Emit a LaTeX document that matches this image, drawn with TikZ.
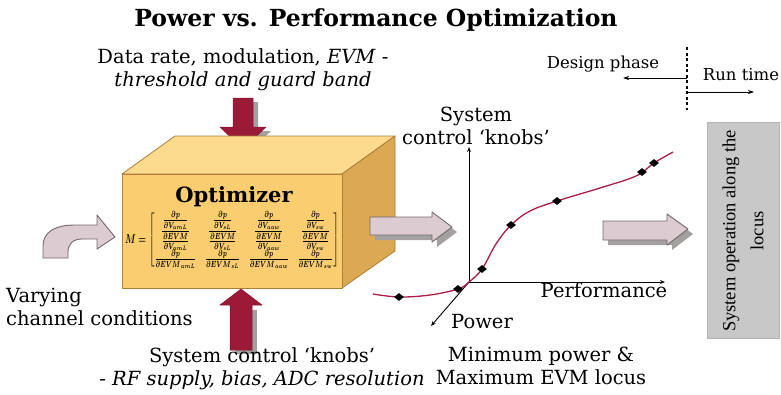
\documentclass[tikz,border=0pt]{standalone}
\usepackage{fontspec}
\usepackage{amsmath}
\setmainfont{DejaVu Serif}
\newfontfamily\timesfont{Liberation Serif}
\usetikzlibrary{arrows.meta,shapes.geometric}

\definecolor{wine}{RGB}{155,26,56}
\definecolor{shade}{RGB}{165,160,160}
\definecolor{pinkfill}{RGB}{221,203,210}
\definecolor{pinkedge}{RGB}{112,104,108}
\definecolor{cubefront}{RGB}{250,206,112}
\definecolor{cubetop}{RGB}{252,218,142}
\definecolor{cubeside}{RGB}{219,168,84}
\definecolor{cubeedge}{RGB}{170,128,60}
\definecolor{locus}{RGB}{168,30,68}
\definecolor{boxgray}{RGB}{200,200,200}

\tikzset{
  lbl/.style={inner sep=0pt, align=center, font=\fontsize{19.5}{22.5}\selectfont},
  redarrow/.style={fill=wine, draw=wine!85!black, line width=0.5pt},
  dropshade/.style={fill=shade, draw=none},
  pinkarrow/.style={fill=pinkfill, draw=pinkedge, line width=0.9pt, line join=round},
  cubeface/.style={draw=cubeedge, line width=0.8pt, line join=round},
  marker/.style={diamond, fill=black, inner sep=0pt, minimum width=10pt, minimum height=8pt},
  axis/.style={draw=black, line width=0.9pt, -{Stealth[length=5pt,width=4pt]}},
  phasearrow/.style={draw=black, line width=0.7pt, -{Stealth[length=6pt,width=4pt]}},
}

\begin{document}
\begin{tikzpicture}[x=1pt, y=-1pt]
\useasboundingbox (0,0) rectangle (781,394);

% title
\node[inner sep=0pt, font=\fontsize{23.5}{28}\selectfont\bfseries] (title) at (376,20)
  {Power vs. Performance Optimization};

% inputs from above
\node[lbl] (spec) at (243,70)
  {Data rate, modulation, \textit{EVM} -\\\textit{threshold and guard band}};

% arrow from the specification into the optimizer
\fill[dropshade] (238,102) -- (258,102) -- (258,131) -- (271,131) -- (248,153) -- (225,131) -- (238,131) -- cycle;
\path[redarrow] (233,98) -- (253,98) -- (253,127) -- (266,127) -- (243,149) -- (220,127) -- (233,127) -- cycle;

% optimizer block
\path[cubeface, fill=cubetop]  (122,174) -- (175,136) -- (395,136) -- (342,174) -- cycle;
\path[cubeface, fill=cubeside] (342,174) -- (395,136) -- (395,251) -- (342,288) -- cycle;
\path[cubeface, fill=cubefront] (122,174) rectangle (342,288);
\node[inner sep=0pt, font=\fontsize{21}{24}\selectfont\bfseries] (opt) at (234,197) {Optimizer};
\node[inner sep=0pt] (mat) at (232,240)
  {\resizebox*{214pt}{57pt}{\boldmath$M=\begin{bmatrix}
   \dfrac{\frac{\partial p}{\partial V_{amL}}}{\frac{\partial EVM}{\partial V_{amL}}} &
   \dfrac{\frac{\partial p}{\partial V_{sL}}}{\frac{\partial EVM}{\partial V_{sL}}} &
   \dfrac{\frac{\partial p}{\partial V_{aaw}}}{\frac{\partial EVM}{\partial V_{aaw}}} &
   \dfrac{\frac{\partial p}{\partial V_{sw}}}{\frac{\partial EVM}{\partial V_{sw}}} \\[9pt]
   \frac{\partial p}{\partial EVM_{\,amL}} &
   \frac{\partial p}{\partial EVM_{\,sL}} &
   \frac{\partial p}{\partial EVM_{\,aaw}} &
   \frac{\partial p}{\partial EVM_{\,sw}}
  \end{bmatrix}$}};

% control knobs from below
\fill[dropshade] (235,310) -- (257,310) -- (257,354) -- (235,354) -- cycle;
\path[redarrow] (230,350) -- (252,350) -- (252,305) -- (262,305) -- (241,289) -- (220,305) -- (230,305) -- cycle;
\node[lbl] (knobs) at (262,369)
  {System control ‘knobs’\\\textit{- RF supply, bias, ADC resolution}};

% varying channel conditions, bent arrow
\path[pinkarrow] (43,258) -- (43,246) .. controls (43,232) and (55,225) .. (75,225)
  -- (97,225) -- (97,215) -- (115,237) -- (97,249) -- (97,239) -- (82,239)
  .. controls (73,239) and (68,244) .. (68,252) -- (68,258) -- cycle;
\node[lbl, anchor=west, align=left] (chan) at (6,307) {Varying\\channel conditions};

% optimizer output arrow
\fill[dropshade] (375,222) -- (437,222) -- (437,217) -- (457,232) -- (437,247) -- (437,240) -- (375,240) -- cycle;
\path[pinkarrow] (370,217) -- (432,217) -- (432,212) -- (452,227) -- (432,242) -- (432,235) -- (370,235) -- cycle;

% locus plot axes
\coordinate (O) at (469,282);
\coordinate (ytip) at (469,147);
\coordinate (xtip) at (665,282);
\coordinate (ptip) at (431,326);
\draw[axis] (O) -- (ytip);
\draw[axis] (O) -- (xtip);
\draw[axis] (O) -- (ptip);
\node[lbl] (ylab) at (476,126) {System\\control ‘knobs’};
\node[lbl] (xlab) at (604,290) {Performance};
\node[lbl] (plab) at (482,322) {Power};

% minimum power / maximum EVM locus
\draw[locus, line width=1.3pt] plot[smooth, tension=0.6] coordinates
  {(373,294) (399,297) (430,295) (458,289) (469,282) (482,269) (496,244) (511,225)
   (530,211) (557,201) (600,188) (636,176) (654,163) (673,152)};
\foreach \n/\p in {m1/{(399,297)}, m2/{(458,289)}, m3/{(482,269)}, m4/{(511,225)},
                   m5/{(557,201)}, m6/{(642,172)}, m7/{(654,163)}}
  \node[marker] (\n) at \p {};
\node[lbl] (locuslab) at (541,366) {Minimum power \&\\Maximum EVM locus};

% run-time output arrow
\fill[dropshade] (608,226) -- (672,226) -- (672,219) -- (693,234) -- (672,250) -- (672,245) -- (608,245) -- cycle;
\path[pinkarrow] (603,221) -- (667,221) -- (667,214) -- (688,229) -- (667,245) -- (667,240) -- (603,240) -- cycle;

% system operation box
\node[fill=boxgray, draw=boxgray!90!black, line width=0.5pt, minimum width=72pt, minimum height=216pt, inner sep=0pt] (opbox) at (743,230) {};
\node[rotate=90, inner sep=0pt, align=center, font=\timesfont\fontsize{18.5}{28}\selectfont] (optext) at (743,231)
  {System operation along the\\locus};

% design phase / run time split
\coordinate (dtop) at (687,47);
\coordinate (dbot) at (687,110);
\draw[line width=1.6pt, dash pattern=on 3pt off 2.5pt] (dtop) -- (dbot);
\coordinate (dsrc) at (687,78);
\coordinate (ddst) at (623,78);
\coordinate (rsrc) at (687,92);
\coordinate (rdst) at (754,92);
\draw[phasearrow] (dsrc) -- (ddst);
\draw[phasearrow] (rsrc) -- (rdst);
\node[lbl, font=\fontsize{16.5}{19}\selectfont] (design) at (603,64) {Design phase};
\node[lbl, font=\fontsize{16.5}{19}\selectfont] (runtime) at (741,75) {Run time};
\end{tikzpicture}
\end{document}
